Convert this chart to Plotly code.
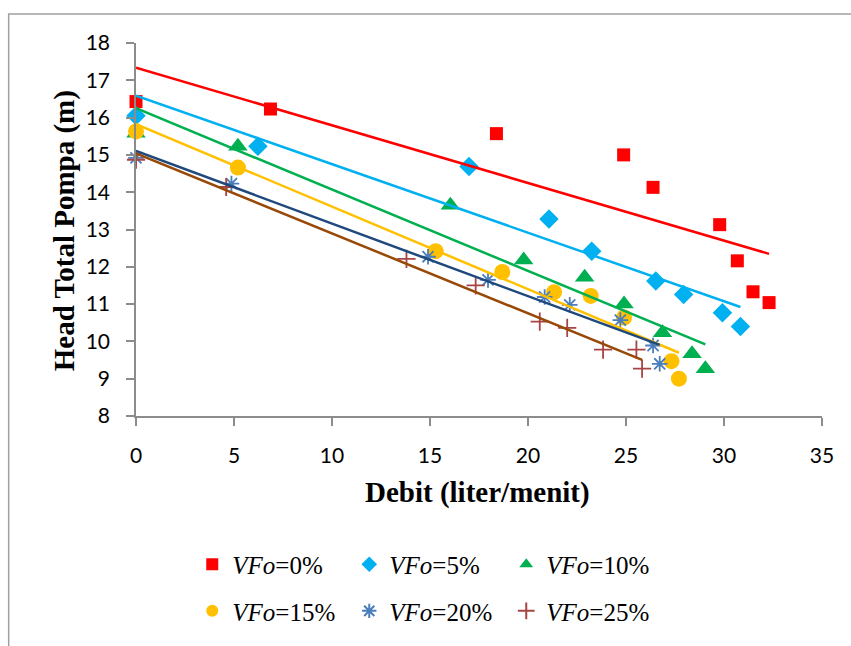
import numpy as np
import plotly.graph_objects as go

# ---- data ----
names = ["<i>VFo</i>=0%", "<i>VFo</i>=5%", "<i>VFo</i>=10%",
         "<i>VFo</i>=15%", "<i>VFo</i>=20%", "<i>VFo</i>=25%"]

x_vf0 = [0.0, 6.86, 18.39, 24.88, 26.38, 29.78, 30.68, 31.48, 32.30]
y_vf0 = [16.43, 16.23, 15.57, 15.00, 14.13, 13.13, 12.16, 11.33, 11.04]

x_vf5 = [0.0, 6.22, 16.99, 21.07, 23.25, 26.52, 27.94, 29.92, 30.84]
y_vf5 = [16.05, 15.23, 14.69, 13.28, 12.42, 11.62, 11.26, 10.77, 10.40]

x_vf10 = [0.0, 5.20, 16.04, 19.78, 22.89, 24.90, 26.86, 28.37, 29.05]
y_vf10 = [15.58, 15.23, 13.65, 12.18, 11.72, 11.00, 10.23, 9.67, 9.27]

x_vf15 = [0.0, 5.20, 15.29, 18.69, 21.33, 23.20, 24.90, 27.32, 27.70]
y_vf15 = [15.63, 14.66, 12.42, 11.86, 11.32, 11.22, 10.64, 9.47, 9.00]

x_vf20 = [0.0, 4.87, 14.90, 17.96, 20.85, 22.13, 24.71, 26.38, 26.72]
y_vf20 = [14.92, 14.23, 12.27, 11.65, 11.19, 10.98, 10.57, 9.89, 9.40]

x_vf25 = [0.0, 4.60, 13.80, 17.33, 20.60, 22.00, 23.83, 25.53, 25.82]
y_vf25 = [14.87, 14.14, 12.21, 11.50, 10.53, 10.36, 9.78, 9.78, 9.27]

x_ticks = [0, 5, 10, 15, 20, 25, 30, 35]
y_ticks = [8, 9, 10, 11, 12, 13, 14, 15, 16, 17, 18]

series = [
    (x_vf0, y_vf0), (x_vf5, y_vf5), (x_vf10, y_vf10),
    (x_vf15, y_vf15), (x_vf20, y_vf20), (x_vf25, y_vf25),
]

SERIF = "Liberation Serif"

# ---- styles ----
styles = [
    dict(symbol="square", size=13, color="#FF0000", line=dict(width=0)),
    dict(symbol="diamond", size=15, color="#00B0F0", line=dict(width=0)),
    dict(symbol="triangle-up", size=17, color="#00B050", line=dict(width=0)),
    dict(symbol="circle", size=16, color="#FFC000", line=dict(width=0)),
    dict(symbol="asterisk-open", size=13, color="#4A7EBB", line=dict(width=1.8, color="#4A7EBB")),
    dict(symbol="cross-thin-open", size=13, color="#A84444", line=dict(width=1.8, color="#A84444")),
]
line_colors = ["#FF0000", "#00B0F0", "#00B050", "#FFC000", "#1F497D", "#984807"]
legend_ids = ["legend", "legend", "legend", "legend2", "legend2", "legend2"]

fig = go.Figure()

for (xs, ys), st, nm, lg in zip(series, styles, names, legend_ids):
    fig.add_trace(go.Scatter(
        x=xs, y=ys, mode="markers", name=nm, marker=st,
        cliponaxis=False, legend=lg,
    ))

# linear trendlines (least squares fit over each series' range)
for (xs, ys), lc in zip(series, line_colors):
    k, b = np.polyfit(xs, ys, 1)
    xx = np.array([min(xs), max(xs)])
    fig.add_trace(go.Scatter(
        x=xx, y=k * xx + b, mode="lines", line=dict(color=lc, width=2.5),
        showlegend=False, hoverinfo="skip", cliponaxis=False,
    ))

axis_common = dict(
    showline=True, linecolor="#8C8C8C", linewidth=1.5,
    ticks="outside", ticklen=8, tickcolor="#8C8C8C", tickwidth=1.5,
    showgrid=False, zeroline=False,
    tickfont=dict(family="Lato", size=21, color="black"),
    ticklabelstandoff=12,
)

fig.update_xaxes(range=[0, 35], tickvals=x_ticks, **axis_common)
fig.update_yaxes(range=[8, 18], tickvals=y_ticks, **axis_common)

legend_font = dict(family=SERIF, size=25, color="black")
fig.update_layout(
    width=851, height=646,
    margin=dict(l=136, r=29, t=43, b=227),
    plot_bgcolor="white", paper_bgcolor="white",
    font=dict(family=SERIF, size=25, color="black"),
    legend=dict(orientation="h", x=0.082, xanchor="left", y=-0.398, yanchor="middle",
                entrywidth=112, entrywidthmode="pixels", font=legend_font,
                itemsizing="constant", bgcolor="rgba(0,0,0,0)"),
    legend2=dict(orientation="h", x=0.082, xanchor="left", y=-0.523, yanchor="middle",
                 entrywidth=112, entrywidthmode="pixels", font=legend_font,
                 itemsizing="constant", bgcolor="rgba(0,0,0,0)"),
    annotations=[
        dict(text="<b>Head Total Pompa (m)</b>", xref="paper", yref="paper",
             x=-0.105, y=0.498, xanchor="center", yanchor="middle", textangle=-90,
             showarrow=False, font=dict(family=SERIF, size=29, color="black")),
        dict(text="<b>Debit (liter/menit)</b>", xref="paper", yref="paper",
             x=0.498, y=-0.204, xanchor="center", yanchor="middle",
             showarrow=False, font=dict(family=SERIF, size=29, color="black")),
    ],
    shapes=[
        dict(type="rect", xref="paper", yref="paper",
             x0=-0.1856, x1=1.06, y0=-0.66, y1=1.078,
             line=dict(color="#A0A0A0", width=1.5), fillcolor="rgba(0,0,0,0)", layer="below"),
    ],
    showlegend=True,
)

fig.write_html("out.html")
